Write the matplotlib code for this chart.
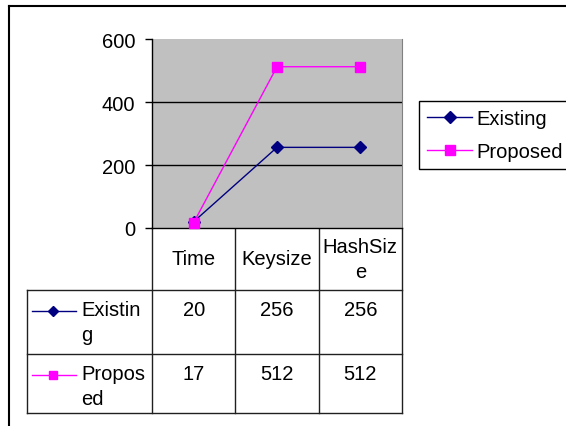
import matplotlib.pyplot as plt
import matplotlib.transforms as mtransforms
from matplotlib.lines import Line2D

plt.rcParams['font.family'] = ['Liberation Sans', 'DejaVu Sans']

categories = ['Time', 'Keysize', 'HashSize']
header_lines = ['Time', 'Keysize', 'HashSiz\ne']
series_names = ['Existing', 'Proposed']
row_labels = ['Existin\ng', 'Propos\ned']
existing = [20, 256, 256]
proposed = [17, 512, 512]
yticks = [0, 200, 400, 600]

navy = '#000080'
magenta = '#FF00FF'
fs = 14.5

W, H = 566, 427
fig = plt.figure(figsize=(W / 100, H / 100), dpi=100)

# overlay in pixel coordinates for table / frame
over = fig.add_axes([0, 0, 1, 1], zorder=0)
over.set_xlim(0, W)
over.set_ylim(H, 0)
over.axis('off')

# plot area: x 152..402, y 40..229 (pixels)
pl, pr, pt, pb = 152, 402, 40, 229
ax = fig.add_axes([pl / W, 1 - pb / H, (pr - pl) / W, (pb - pt) / H], zorder=2)
ax.set_facecolor('#C0C0C0')
x = [i + 0.5 for i in range(len(categories))]
ax.plot(x, existing, color=navy, lw=1, marker='D', ms=6, mfc=navy, mec=navy,
        label=series_names[0], clip_on=False, zorder=3)
ax.plot(x, proposed, color=magenta, lw=1, marker='s', ms=7, mfc=magenta, mec=magenta,
        label=series_names[1], clip_on=False, zorder=3)
ax.set_xlim(0, len(categories))
ax.set_ylim(0, 600)
ax.set_yticks(yticks)
ax.set_xticks([])
for v in yticks[1:-1]:
    ax.axhline(v, color='black', lw=1, zorder=1)
ax.tick_params(axis='y', labelsize=fs, length=5, width=1, pad=7, colors='black')
ax.spines['top'].set_visible(False)
ax.spines['right'].set_color('#808080')
ax.spines['left'].set_linewidth(1)
ax.spines['bottom'].set_linewidth(1)

# legend
fig.legend(loc='upper left', bbox_to_anchor=(419 / W, 1 - 102 / H), fontsize=fs,
           frameon=True, fancybox=False, edgecolor='black', framealpha=1,
           handlelength=2.2, handletextpad=0.25, labelspacing=0.65,
           borderpad=0.42, borderaxespad=0)

# outer frame (top and left only visible)
over.plot([9, W], [7, 7], color='black', lw=1.5)
over.plot([9, 9], [7, H], color='black', lw=1.5)

# data table
t = mtransforms.blended_transform_factory(ax.transData, over.transData)
rows_y = [229, 291, 355, 414]
lc = '#202020'
over.plot([27, pr], [291, 291], color=lc, lw=1)
over.plot([27, pr], [355, 355], color=lc, lw=1)
over.plot([27, pr], [414, 414], color=lc, lw=1)
over.plot([27, 27], [291, 414], color=lc, lw=1)
for xv in range(len(categories) + 1):
    over.plot([xv, xv], [229, 414], color=lc, lw=1, transform=t)

for xi, lab in zip(x, header_lines):
    over.text(xi, 260, lab, transform=t, ha='center', va='center', fontsize=fs,
              linespacing=1.35)

for r, (vals, lab, col, mk) in enumerate(zip([existing, proposed], row_labels,
                                            [navy, magenta], ['D', 's'])):
    ytop = rows_y[r + 1]
    for xi, v in zip(x, vals):
        over.text(xi, ytop + 10, str(v), transform=t, ha='center', va='top', fontsize=fs)
    over.text(81, ytop + 10, lab, ha='left', va='top', fontsize=fs, linespacing=1.4)
    over.add_line(Line2D([32, 76], [ytop + 21, ytop + 21], color=col, lw=1))
    over.plot([53], [ytop + 21], marker=mk, ms=5 if mk == 'D' else 6, color=col)

fig.savefig('out.png', dpi=100)
